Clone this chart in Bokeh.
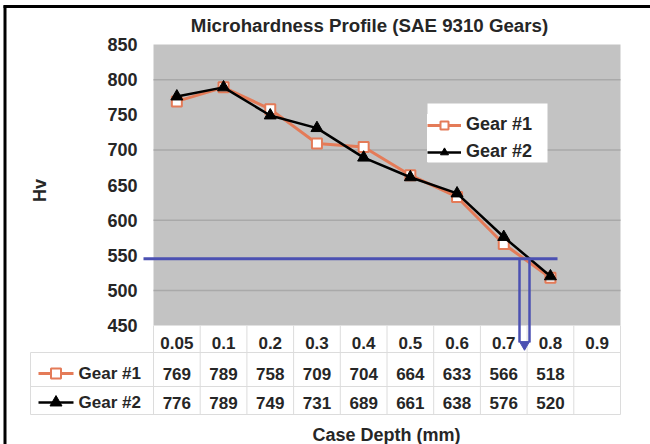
import math
from bokeh.plotting import figure
from bokeh.models import Range1d, Legend, LegendItem, ColumnDataSource
from bokeh.core.properties import value
from bokeh.embed import file_html
from bokeh.resources import INLINE

# ---------------- data ----------------
categories = ["0.05", "0.1", "0.2", "0.3", "0.4", "0.5", "0.6", "0.7", "0.8", "0.9"]
gear1 = [769, 789, 758, 709, 704, 664, 633, 566, 518]
gear2 = [776, 789, 749, 731, 689, 661, 638, 576, 520]
series_names = ["Gear #1", "Gear #2"]
y_ticks = [450, 500, 550, 600, 650, 700, 750, 800, 850]
grid_ticks = [500, 600, 700, 800]
y_min, y_max = 450, 850
threshold = 545

title_text = "Microhardness Profile (SAE 9310 Gears)"
x_title = "Case Depth (mm)"
y_title = "Hv"

# ---------------- layout / style ----------------
FONT = "Liberation Sans"
ORANGE = "#e47b58"
BLUE = "#4b50b2"
TXT = "#262626"
GRID_T = "#dcdcdc"
W, H = 650, 444
PLOT_L, PLOT_T, PLOT_B = 153, 44, 325   # pixel frame of gray plot area
CAT_W = 46.7                             # pixel width of one category
PX_PER_HV = (PLOT_B - PLOT_T) / (y_max - y_min)


def dx(px):
    return -0.5 + (px - PLOT_L) / CAT_W


def dy(py):
    return y_max - (py - PLOT_T) / PX_PER_HV


p = figure(width=W, height=H, output_backend="svg", toolbar_location=None,
           x_range=Range1d(dx(0), dx(W)), y_range=Range1d(dy(H), dy(0)),
           x_axis_location=None, y_axis_location=None, min_border=0)
p.background_fill_color = "white"
p.border_fill_color = "white"
p.outline_line_color = None
p.xgrid.visible = False
p.ygrid.visible = False

ncat = len(categories)

# gray plot area + gridlines
p.quad(left=[-0.5], right=[ncat - 0.5], bottom=[y_min], top=[y_max],
       fill_color="#c3c3c3", line_color=None)
p.segment(x0=[-0.5] * len(grid_ticks), y0=grid_ticks,
          x1=[ncat - 0.5] * len(grid_ticks), y1=grid_ticks,
          line_color="#a9a9a9", line_width=1.5)

# y tick labels
p.text(x=[dx(137)] * len(y_ticks), y=y_ticks, text=[str(t) for t in y_ticks],
       text_align="right", text_baseline="middle", text_font=value(FONT),
       text_font_size="18px", text_font_style="bold", text_color=TXT)

# titles
p.text(x=[dx(369)], y=[dy(25)], text=[title_text], text_align="center",
       text_baseline="middle", text_font=value(FONT), text_font_size="18.7px",
       text_font_style="bold", text_color=TXT)
p.text(x=[dx(386)], y=[dy(434)], text=[x_title], text_align="center",
       text_baseline="middle", text_font=value(FONT), text_font_size="18px",
       text_font_style="bold", text_color=TXT)
p.text(x=[dx(39)], y=[dy(190)], text=[y_title], angle=math.pi / 2,
       text_align="center", text_baseline="middle", text_font=value(FONT),
       text_font_size="18px", text_font_style="bold", text_color=TXT)

# data table grid
ROW_CAT, ROW_G1, ROW_G2 = dy(342), dy(373), dy(402)
L1, L2, L3 = dy(352), dy(386), dy(414)
vx = [i - 0.5 for i in range(ncat + 1)]
p.segment(x0=vx, y0=[L3] * len(vx), x1=vx, y1=[y_min] * len(vx),
          line_color=GRID_T, line_width=1)
p.segment(x0=[dx(30)] * 3, y0=[L1, L2, L3], x1=[ncat - 0.5] * 3, y1=[L1, L2, L3],
          line_color=GRID_T, line_width=1)
p.segment(x0=[dx(30)], y0=[L1], x1=[dx(30)], y1=[L3], line_color=GRID_T,
          line_width=1)

# series
x1 = list(range(len(gear1)))
x2 = list(range(len(gear2)))
l1 = p.line(x1, gear1, line_color=ORANGE, line_width=3)
s1 = p.scatter(x1, gear1, marker="square", size=10, fill_color="white",
               line_color=ORANGE, line_width=2)
l2 = p.line(x2, gear2, line_color="black", line_width=2.5)
s2 = p.scatter(x2, gear2, marker="triangle", size=12, fill_color="black",
               line_color="black")

# data table texts
tsrc = ColumnDataSource(dict(
    x=list(range(ncat)) + x1 + x2,
    y=[ROW_CAT] * ncat + [ROW_G1] * len(gear1) + [ROW_G2] * len(gear2),
    t=categories + [str(v) for v in gear1] + [str(v) for v in gear2],
))
p.text(x="x", y="y", text="t", source=tsrc, text_align="center",
       text_baseline="middle", text_font=value(FONT), text_font_size="17px",
       text_font_style="bold", text_color=TXT)

# data table legend keys
rows = [ROW_G1, ROW_G2]
p.segment(x0=[dx(38)] * 2, y0=rows, x1=[dx(73)] * 2, y1=rows,
          line_color=[ORANGE, "black"], line_width=[3, 2.5])
p.scatter([dx(55.5)], [ROW_G1], marker="square", size=10, fill_color="white",
          line_color=ORANGE, line_width=2)
p.scatter([dx(55.5)], [ROW_G2], marker="triangle", size=12, fill_color="black",
          line_color="black")
p.text(x=[dx(78)] * 2, y=rows, text=series_names, text_align="left",
       text_baseline="middle", text_font=value(FONT), text_font_size="17px",
       text_font_style="bold", text_color=TXT)

# blue threshold marks
p.segment(x0=[dx(143)], y0=[threshold], x1=[dx(557)], y1=[threshold],
          line_color=BLUE, line_width=3)
p.segment(x0=[dx(519), dx(529)], y0=[threshold] * 2, x1=[dx(519), dx(529)],
          y1=[dy(342)] * 2, line_color=BLUE, line_width=2.5)
p.scatter([dx(524)], [dy(344)], marker="inverted_triangle", size=10,
          fill_color=BLUE, line_color=BLUE)

# chart legend
p.quad(left=[dx(427)], right=[dx(547)], top=[dy(103)], bottom=[dy(162)],
       fill_color="white", line_color=None)
leg = Legend(items=[LegendItem(label=series_names[0], renderers=[l1, s1]),
                    LegendItem(label=series_names[1], renderers=[l2, s2])],
             location=(427, H - 162), orientation="vertical",
             glyph_width=34, glyph_height=20, label_height=20, spacing=6,
             padding=6, margin=0, label_standoff=5,
             label_text_font=FONT, label_text_font_size="18px",
             label_text_font_style="bold", label_text_color=TXT,
             border_line_color=None, background_fill_color="white",
             background_fill_alpha=1.0)
p.add_layout(leg, "center")

# black frame (top and left)
p.segment(x0=[dx(3)], y0=[dy(6)], x1=[dx(W)], y1=[dy(6)], line_color="black",
          line_width=3)
p.segment(x0=[dx(4.5)], y0=[dy(5)], x1=[dx(4.5)], y1=[dy(H)], line_color="black",
          line_width=3)

open("out.html", "w").write(file_html(p, INLINE))
